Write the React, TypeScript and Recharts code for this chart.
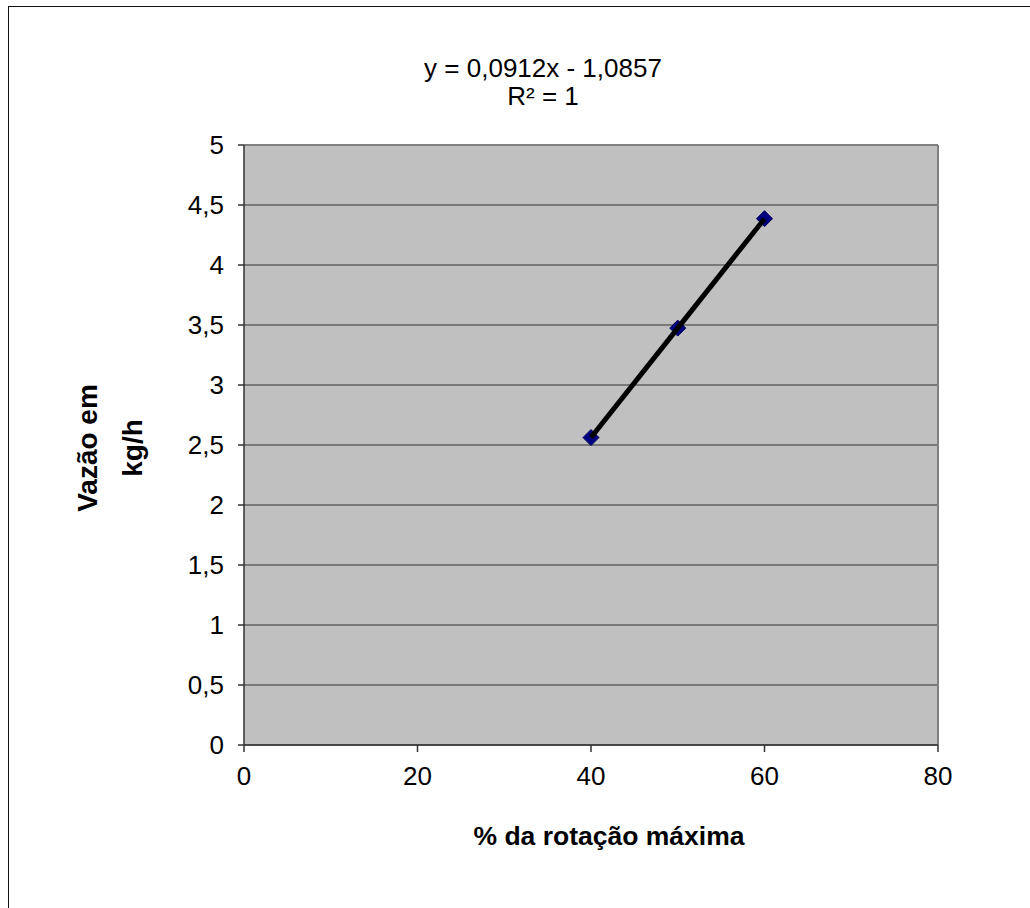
import {
  CartesianGrid,
  ReferenceLine,
  Scatter,
  ScatterChart,
  XAxis,
  YAxis,
} from "recharts";

// % da rotação máxima
const rotacao = [40, 50, 60];
// Vazão em kg/h
const vazao = [2.562, 3.474, 4.386];

const xTicks = [0, 20, 40, 60, 80];
const yTicks = [0, 0.5, 1, 1.5, 2, 2.5, 3, 3.5, 4, 4.5, 5];

const equation = "y = 0,0912x - 1,0857";
const rSquared = "R² = 1";
const xTitle = "% da rotação máxima";
const yTitle = ["Vazão em", "kg/h"];

const data = rotacao.map((x, i) => ({ x, y: vazao[i] }));

const FONT = "'Liberation Sans', Arial, sans-serif";

const fmt = (v: number) => String(v).replace(".", ",");

const Diamond = (props: any) => {
  const { cx, cy } = props;
  const r = 8;
  return (
    <polygon
      points={`${cx},${cy - r} ${cx + r},${cy} ${cx},${cy + r} ${cx - r},${cy}`}
      fill="#000080"
      stroke="#00005a"
      strokeWidth={1}
    />
  );
};

const NoShape = () => <g />;

const textStyle = {
  position: "absolute" as const,
  fontFamily: FONT,
  fontSize: 26,
  color: "#000",
  whiteSpace: "nowrap" as const,
  lineHeight: 1,
  transform: "translate(-50%, -50%)",
};

const axisTitle = {
  ...textStyle,
  fontSize: 28,
  fontWeight: "bold" as const,
};

export default function App() {
  return (
    <div
      style={{
        position: "absolute",
        left: 0,
        top: 0,
        width: 1030,
        height: 908,
        overflow: "hidden",
        background: "#fff",
      }}
    >
      <div
        style={{
          position: "absolute",
          left: 8,
          top: 6,
          width: 1022,
          height: 902,
          boxSizing: "border-box",
          borderLeft: "1.5px solid #111",
          borderTop: "1.5px solid #111",
        }}
      />
      <div style={{ position: "absolute", left: 0, top: 0 }}>
        <ScatterChart
          width={1030}
          height={908}
          margin={{ top: 145, right: 92, left: 204, bottom: 133 }}
        >
          <CartesianGrid
            vertical={false}
            fill="#c0c0c0"
            fillOpacity={1}
            stroke="#333"
            strokeWidth={1}
          />
          <XAxis
            type="number"
            dataKey="x"
            domain={[0, 80]}
            ticks={xTicks}
            interval={0}
            height={30}
            tickSize={7}
            tickMargin={15}
            stroke="#333"
            strokeWidth={1.5}
            tick={{ fill: "#000", fontSize: 26, fontFamily: FONT }}
            tickFormatter={fmt}
          />
          <YAxis
            type="number"
            dataKey="y"
            domain={[0, 5]}
            ticks={yTicks}
            interval={0}
            width={40}
            tickSize={6}
            tickMargin={14}
            stroke="#333"
            strokeWidth={1.5}
            tick={{ fill: "#000", fontSize: 26, fontFamily: FONT }}
            tickFormatter={fmt}
          />
          <ReferenceLine y={5} stroke="#808080" strokeWidth={2} />
          <ReferenceLine x={80} stroke="#808080" strokeWidth={2} />
          <Scatter
            data={data}
            shape={<Diamond />}
            isAnimationActive={false}
          />
          <Scatter
            data={data}
            line={{ stroke: "#000", strokeWidth: 5 }}
            lineType="joint"
            shape={<NoShape />}
            isAnimationActive={false}
          />
        </ScatterChart>
      </div>
      <div style={{ ...textStyle, left: 543, top: 68 }}>{equation}</div>
      <div style={{ ...textStyle, left: 543, top: 96 }}>{rSquared}</div>
      <div style={{ ...axisTitle, fontSize: 26.5, left: 609, top: 836 }}>
        {xTitle}
      </div>
      <div
        style={{
          ...axisTitle,
          left: 88,
          top: 448,
          transform: "translate(-50%, -50%) rotate(-90deg)",
        }}
      >
        {yTitle[0]}
      </div>
      <div
        style={{
          ...axisTitle,
          left: 133,
          top: 448,
          transform: "translate(-50%, -50%) rotate(-90deg)",
        }}
      >
        {yTitle[1]}
      </div>
    </div>
  );
}
